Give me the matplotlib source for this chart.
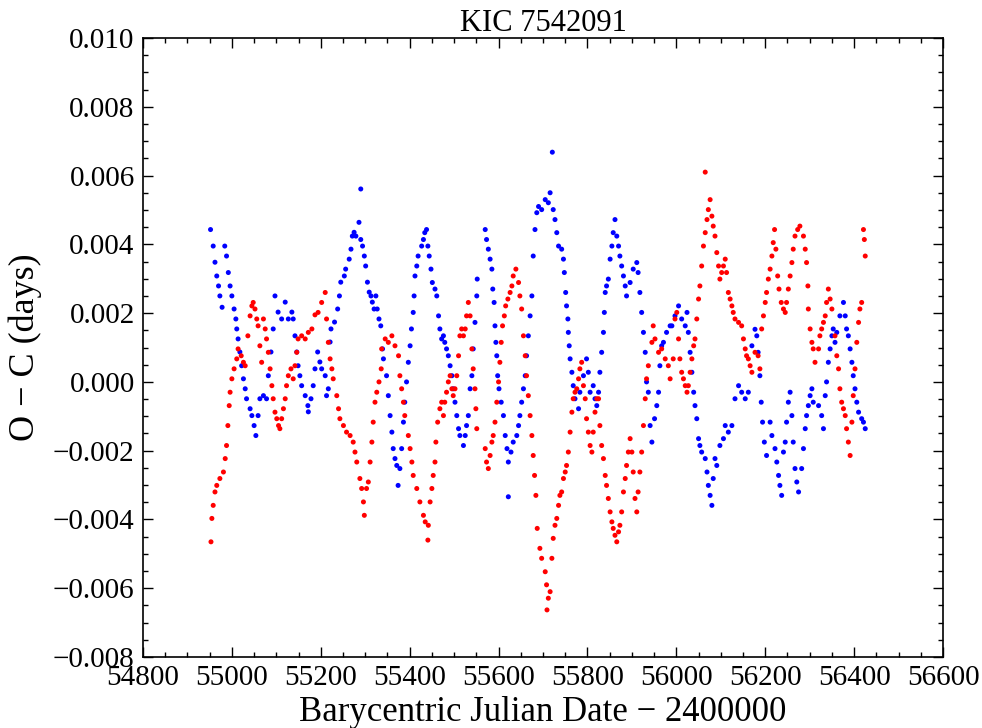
import matplotlib
matplotlib.use("Agg")
import matplotlib.pyplot as plt
import numpy as np
from matplotlib.ticker import MultipleLocator, FuncFormatter

# ---- data (O - C in units of 1e-3 days) ----
blue_bjd = [54952, 54958, 54962, 54966, 54970, 54973, 54978, 54984, 54988, 54992, 54996, 55000,
            55005, 55009, 55011, 55014, 55018, 55022, 55026, 55030, 55033, 55041, 55045, 55050,
            55054, 55059, 55063, 55071, 55078, 55082, 55088, 55093, 55097, 55104, 55112, 55120,
            55127, 55135, 55138, 55142, 55146, 55149, 55153, 55157, 55165, 55171, 55172, 55178,
            55183, 55187, 55193, 55198, 55202, 55210, 55213, 55217, 55221, 55223, 55231, 55238,
            55242, 55245, 55253, 55256, 55264, 55268, 55271, 55275, 55279, 55286, 55290, 55290,
            55294, 55298, 55301, 55305, 55309, 55313, 55316, 55320, 55324, 55327, 55331, 55335,
            55339, 55341, 55348, 55352, 55356, 55360, 55363, 55367, 55371, 55374, 55378, 55382,
            55386, 55389, 55393, 55397, 55401, 55404, 55408, 55410, 55412, 55416, 55419, 55427,
            55431, 55434, 55438, 55441, 55444, 55448, 55451, 55457, 55461, 55465, 55468, 55472,
            55476, 55479, 55483, 55487, 55491, 55495, 55498, 55502, 55506, 55510, 55513, 55521,
            55525, 55528, 55532, 55536, 55540, 55543, 55547, 55551, 55552, 55570, 55573, 55577,
            55581, 55585, 55587, 55590, 55592, 55594, 55596, 55598, 55601, 55606, 55611, 55615,
            55619, 55622, 55622, 55628, 55633, 55641, 55645, 55648, 55652, 55656, 55660, 55663,
            55667, 55671, 55675, 55678, 55682, 55686, 55690, 55697, 55705, 55712, 55716, 55721,
            55723, 55727, 55731, 55735, 55742, 55746, 55748, 55751, 55753, 55756, 55757, 55759,
            55761, 55765, 55768, 55772, 55780, 55783, 55791, 55798, 55802, 55806, 55813, 55817,
            55821, 55825, 55828, 55832, 55836, 55838, 55840, 55843, 55847, 55851, 55855, 55858,
            55862, 55866, 55870, 55873, 55877, 55881, 55885, 55888, 55896, 55903, 55911, 55914,
            55918, 55922, 55926, 55930, 55933, 55937, 55941, 55945, 55951, 55956, 55960, 55963,
            55967, 55971, 55978, 55986, 55990, 55997, 56005, 56012, 56020, 56024, 56027, 56031,
            56035, 56039, 56042, 56046, 56050, 56053, 56057, 56065, 56069, 56072, 56076, 56080,
            56083, 56087, 56091, 56098, 56106, 56110, 56117, 56125, 56132, 56140, 56147, 56155,
            56162, 56170, 56177, 56181, 56184, 56188, 56191, 56194, 56198, 56203, 56211, 56215,
            56222, 56226, 56230, 56233, 56237, 56241, 56245, 56248, 56252, 56256, 56260, 56263,
            56267, 56271, 56275, 56282, 56286, 56290, 56293, 56297, 56301, 56305, 56308, 56320,
            56327, 56331, 56335, 56338, 56342, 56346, 56350, 56353, 56357, 56361, 56368, 56376,
            56380, 56383, 56387, 56391, 56395, 56398, 56402, 56406, 56410, 56417, 56421, 56425]
blue_oc = [4.43, 3.95, 3.48, 3.08, 2.79, 2.50, 2.17, 3.95, 3.66, 3.18, 2.79, 2.50,
           2.12, 1.83, 1.54, 1.25, 0.87, 0.47, 0.09, -0.20, -0.49, -0.78, -0.98, -1.27,
           -1.56, -0.98, -0.49, -0.40, -0.49, 0.18, 0.87, 1.54, 2.50, 2.03, 1.83, 2.32,
           1.83, 2.03, 1.83, 1.34, 0.87, 0.47, 0.18, -0.11, -0.40, -0.69, -0.87, -0.49,
           -0.11, 0.38, 0.87, 0.58, 0.38, 0.18, -0.40, -0.20, 1.16, 1.54, 1.74, 2.12,
           2.50, 2.90, 3.08, 3.28, 3.57, 3.86, 4.24, 4.35, 4.24, 4.64, 4.14, 5.61,
           3.95, 3.66, 3.37, 2.90, 2.61, 2.50, 2.32, 2.12, 2.50, 2.12, 1.83, 1.63,
           0.96, 0.67, 0.18, -0.40, -0.98, -1.46, -1.94, -2.23, -2.43, -3.01, -2.52, -1.94,
           -1.17, -0.59, 0.00, 0.57, 1.05, 1.54, 2.02, 2.50, 3.08, 3.37, 3.66, 3.95,
           4.14, 4.34, 4.43, 3.95, 3.66, 3.28, 2.89, 2.70, 2.50, 1.92, 1.54, 1.25,
           1.34, 1.15, 0.96, 0.76, 0.47, 0.18, -0.20, -0.59, -0.98, -1.36, -1.56, -1.85,
           -1.56, -1.27, -0.98, -0.20, 0.18, 0.96, 1.73, 2.50, 2.99, 4.43, 4.14, 3.86,
           3.57, 3.28, 2.70, 2.31, 1.63, 1.15, 0.76, 0.18, -0.20, -0.59, -0.98, -1.56,
           -1.94, -2.33, -3.34, -2.04, -1.75, -1.56, -1.27, -0.98, -0.59, -0.20, 0.18, 0.76,
           1.34, 1.92, 2.50, 3.66, 4.43, 4.92, 5.10, 5.01, 5.30, 5.21, 5.50, 6.68,
           5.01, 4.72, 4.34, 3.95, 3.86, 3.57, 3.18, 2.60, 2.21, 1.83, 1.44, 1.05,
           0.67, 0.28, -0.11, -0.49, -0.78, -0.30, 0.18, 0.67, 0.28, -0.30, -0.11, -0.49,
           -0.69, -0.30, 0.28, 0.86, 1.44, 2.02, 2.60, 2.79, 2.99, 3.57, 3.95, 4.34,
           4.72, 4.24, 3.95, 3.66, 3.37, 3.08, 2.79, 2.50, 2.89, 3.28, 3.47, 3.18,
           2.60, 2.02, 1.44, 0.86, 0.00, -0.30, -1.27, -1.75, -1.07, -0.69, -0.30, 0.47,
           1.05, 1.15, 1.44, 1.63, 1.63, 1.92, 2.21, 1.83, 1.63, 2.02, 1.44, 0.86,
           0.28, -0.30, -0.69, -1.07, -1.65, -1.85, -2.04, -2.23, -2.62, -3.01, -3.30, -3.59,
           -2.81, -2.23, -2.43, -1.85, -1.65, -1.27, -1.46, -1.27, -0.49, -0.11, -0.30, -0.49,
           -0.30, 1.05, 1.53, 1.34, 0.86, 0.18, -0.59, -1.17, -1.75, -2.14, -1.17, -1.56,
           -1.94, -2.33, -2.72, -3.01, -3.30, -2.04, -1.75, -1.17, -0.59, -0.30, -0.98, -1.75,
           -2.52, -2.91, -3.20, -2.52, -1.94, -1.36, -0.98, -0.69, -0.40, -0.20, -0.59, -0.69,
           -0.98, -1.36, -0.40, 0.00, 0.57, 0.96, 1.34, 1.54, 1.15, 1.44, 1.92, 2.31,
           1.92, 1.54, 1.34, 0.96, 0.57, 0.18, -0.20, -0.59, -0.88, -1.07, -1.17, -1.36]

red_bjd = [54953, 54955, 54958, 54962, 54966, 54973, 54981, 54985, 54988, 54991, 54994, 54996,
           55000, 55005, 55011, 55014, 55021, 55026, 55030, 55036, 55041, 55045, 55048, 55052,
           55056, 55059, 55063, 55067, 55071, 55075, 55078, 55082, 55086, 55090, 55093, 55097,
           55101, 55105, 55108, 55112, 55116, 55120, 55123, 55127, 55133, 55138, 55142, 55146,
           55149, 55157, 55165, 55172, 55180, 55187, 55194, 55202, 55210, 55213, 55217, 55221,
           55225, 55228, 55236, 55240, 55243, 55251, 55258, 55266, 55273, 55277, 55281, 55288,
           55292, 55296, 55298, 55303, 55307, 55311, 55315, 55318, 55322, 55326, 55331, 55336,
           55337, 55345, 55352, 55360, 55367, 55375, 55378, 55382, 55386, 55389, 55397, 55401,
           55405, 55408, 55416, 55423, 55431, 55435, 55441, 55442, 55446, 55450, 55453, 55457,
           55459, 55463, 55468, 55472, 55476, 55479, 55483, 55487, 55491, 55495, 55498, 55502,
           55506, 55510, 55513, 55517, 55521, 55525, 55528, 55532, 55536, 55540, 55543, 55547,
           55549, 55551, 55570, 55573, 55577, 55581, 55585, 55588, 55592, 55596, 55600, 55603,
           55606, 55609, 55613, 55616, 55621, 55626, 55630, 55633, 55639, 55645, 55648, 55652,
           55656, 55660, 55663, 55667, 55671, 55675, 55678, 55681, 55684, 55687, 55693, 55697,
           55705, 55708, 55709, 55712, 55716, 55720, 55723, 55727, 55731, 55735, 55738, 55742,
           55746, 55750, 55753, 55757, 55761, 55765, 55768, 55772, 55776, 55780, 55783, 55787,
           55791, 55795, 55798, 55802, 55806, 55810, 55813, 55817, 55821, 55825, 55828, 55832,
           55836, 55840, 55843, 55847, 55851, 55855, 55858, 55862, 55866, 55870, 55873, 55877,
           55881, 55885, 55888, 55892, 55896, 55900, 55903, 55907, 55911, 55914, 55918, 55922,
           55926, 55930, 55933, 55937, 55945, 55948, 55952, 55960, 55967, 55975, 55982, 55986,
           55993, 55997, 56001, 56005, 56008, 56012, 56016, 56020, 56024, 56027, 56031, 56035,
           56039, 56042, 56046, 56050, 56053, 56057, 56061, 56065, 56065, 56069, 56072, 56076,
           56080, 56083, 56087, 56091, 56095, 56098, 56102, 56106, 56110, 56113, 56117, 56121,
           56125, 56128, 56132, 56140, 56147, 56151, 56155, 56158, 56162, 56166, 56170, 56177,
           56184, 56188, 56192, 56196, 56200, 56203, 56207, 56211, 56215, 56218, 56221, 56224,
           56228, 56231, 56236, 56241, 56245, 56248, 56252, 56256, 56260, 56263, 56267, 56273,
           56278, 56286, 56290, 56293, 56296, 56297, 56301, 56305, 56308, 56312, 56320, 56323,
           56327, 56331, 56335, 56338, 56342, 56346, 56350, 56357, 56361, 56365, 56368, 56372,
           56376, 56380, 56383, 56387, 56391, 56395, 56398, 56402, 56406, 56410, 56413, 56417,
           56421, 56423, 56425]
red_oc = [-4.65, -3.97, -3.59, -3.20, -3.01, -2.81, -2.62, -2.23, -1.85, -1.27, -0.69, -0.30,
          0.09, 0.38, 0.67, 0.96, 0.76, 0.57, 0.47, 1.34, 1.92, 2.21, 2.31, 2.12,
          1.83, 1.63, 1.05, 0.57, 1.83, 1.54, 1.25, 0.86, 0.38, -0.11, -0.49, -0.88,
          -1.07, -1.27, -1.36, -1.07, -0.78, -0.49, -0.11, 0.18, 0.38, 0.09, 0.47, 0.86,
          1.25, 1.34, 1.25, 1.44, 1.54, 1.95, 2.02, 2.31, 2.60, 1.83, 1.15, 0.67,
          0.38, 0.09, -0.40, -0.78, -1.07, -1.27, -1.46, -1.56, -1.75, -2.04, -2.33, -2.81,
          -3.10, -3.49, -3.88, -3.10, -2.91, -2.33, -1.75, -1.17, -0.59, -0.30, 0.00, 0.38,
          0.96, 1.25, 1.15, 1.34, 1.05, 0.76, 0.18, -0.20, -0.59, -0.98, -1.56, -1.94,
          -2.33, -2.72, -3.10, -3.49, -3.88, -4.07, -4.60, -4.17, -3.49, -3.10, -2.72, -2.33,
          -1.75, -1.17, -0.78, -0.59, -0.98, -0.59, -0.30, 0.00, 0.18, -0.20, -0.40, -0.20,
          0.18, 0.76, 1.34, 1.54, 1.34, 1.54, 1.92, 2.31, 1.92, 0.96, 0.38, -0.20,
          -0.78, -1.36, -1.94, -2.33, -2.52, -2.14, -1.75, -1.56, -1.17, -0.59, 0.00, 0.57,
          1.15, 1.63, 1.92, 2.21, 2.41, 2.60, 2.79, 3.08, 3.28, 2.89, 2.50, 2.12,
          1.34, 0.76, 0.18, -0.40, -0.98, -1.56, -2.14, -2.72, -3.30, -4.26, -4.84, -5.13,
          -5.52, -5.90, -6.63, -6.29, -6.10, -5.13, -4.55, -4.17, -3.97, -3.59, -3.30, -3.20,
          -2.81, -2.62, -2.43, -2.04, -1.46, -0.88, -0.49, -0.30, -0.20, 0.09, 0.38, 0.57,
          -0.11, -0.49, -1.07, -1.46, -1.85, -2.04, -1.46, -0.88, -0.49, -0.49, -1.27, -1.85,
          -2.23, -2.72, -3.01, -3.39, -3.78, -4.07, -4.26, -4.46, -4.65, -4.36, -4.17, -3.78,
          -3.20, -2.81, -2.43, -2.04, -1.65, -2.04, -2.62, -3.39, -3.78, -3.20, -2.62, -2.04,
          -1.27, -0.49, 0.09, 0.47, 1.15, 1.63, 1.25, 0.86, 0.96, 0.67, 0.47, 0.09,
          0.67, 1.83, 2.02, 1.25, 0.67, 0.28, 0.09, -0.11, -0.30, -0.11, 0.28, 0.67,
          1.05, 1.25, 1.83, 2.41, 2.79, 3.37, 3.95, 4.34, 6.10, 4.72, 5.01, 5.30,
          4.82, 4.53, 4.24, 3.76, 3.37, 2.99, 3.18, 3.37, 3.57, 3.18, 2.60, 2.41,
          2.21, 2.02, 1.83, 1.73, 1.63, 1.25, 0.96, 0.76, 0.67, 0.47, 0.28, 0.86,
          0.76, 0.38, 1.54, 1.92, 2.31, 2.60, 2.99, 3.28, 3.66, 4.05, 4.43, 3.86,
          3.08, 2.70, 2.31, 2.12, 2.02, 2.31, 2.70, 3.08, 3.47, 3.86, 4.24, 4.43,
          4.53, 4.24, 3.86, 3.47, 2.79, 2.12, 1.54, 1.15, 0.96, 0.57, 0.96, 1.34,
          1.54, 1.73, 1.92, 2.31, 2.70, 2.41, 2.12, 1.34, 0.76, 0.38, -0.20, -0.59,
          -0.78, -0.98, -1.36, -1.75, -2.14, -1.17, -0.40, 0.38, 1.15, 1.73, 2.12, 2.31,
          4.43, 4.14, 3.66]

title_text = "KIC 7542091"
x_label = "Barycentric Julian Date \u2212 2400000"
y_label = "O \u2212 C (days)"

plt.rcParams['font.family'] = ['Liberation Serif', 'DejaVu Serif']

fig = plt.figure(figsize=(9.82, 7.28), dpi=100)
ax = fig.add_axes([0.1456, 0.0975, 0.8147, 0.8503])

ax.scatter(blue_bjd, np.array(blue_oc) * 1e-3, s=13, c='#0000ff', edgecolors='none', zorder=2)
ax.scatter(red_bjd, np.array(red_oc) * 1e-3, s=13, c='#ff0000', edgecolors='none', zorder=3)

ax.set_xlim(54800, 56600)
ax.set_ylim(-0.008, 0.010)
ax.xaxis.set_major_locator(MultipleLocator(200))
ax.xaxis.set_minor_locator(MultipleLocator(50))
ax.yaxis.set_major_locator(MultipleLocator(0.002))
ax.yaxis.set_minor_locator(MultipleLocator(0.0005))
ax.yaxis.set_major_formatter(FuncFormatter(lambda v, p: ("%.3f" % v).replace('-', '\u2212') if abs(v) > 1e-12 else "0.000"))
ax.xaxis.set_major_formatter(FuncFormatter(lambda v, p: "%d" % round(v)))

ax.tick_params(which='both', direction='in', top=True, right=True, labelsize=21, pad=6)
ax.tick_params(which='major', length=7, width=1)
ax.tick_params(which='minor', length=3.5, width=1)
for s in ax.spines.values():
    s.set_linewidth(1.2)

ax.set_title(title_text, fontsize=22, pad=5)
ax.set_xlabel(x_label, fontsize=25, labelpad=3)
ax.set_ylabel(y_label, fontsize=26, labelpad=8)

fig.savefig("out.png", dpi=100)
